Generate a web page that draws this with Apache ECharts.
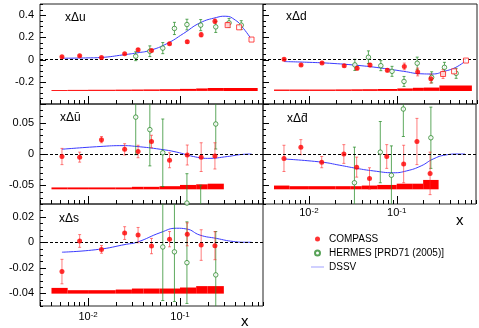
<!DOCTYPE html>
<html>
<head>
<meta charset="utf-8">
<script src="https://cdn.jsdelivr.net/npm/echarts@6/dist/echarts.min.js"></script>
<style>
html, body { margin: 0; padding: 0; background: #fff; }
#main { width: 479px; height: 328px; }
</style>
</head>
<body>
<div id="main"></div>
<script>
var FONT = '"Liberation Sans", Arial, sans-serif';

// x values of the measurements
var compassX = [0.0052, 0.0081, 0.014, 0.025, 0.035, 0.049, 0.077, 0.12, 0.17, 0.24, 0.33];
var hermesX = [0.033, 0.047, 0.065, 0.087, 0.119, 0.168, 0.245, 0.342, 0.464];
var binEdges = [0.004, 0.006, 0.01, 0.02, 0.03, 0.04, 0.06, 0.1, 0.15, 0.2, 0.3, 0.7];
var squareX = [0.33, 0.44, 0.6];

// x Delta u
var compassU = [0.025, 0.034, 0.018, 0.052, 0.088, 0.082, 0.143, 0.16, 0.224, 0.345, 0.315];
var compassUErr = [0.006, 0.006, 0.006, 0.007, 0.01, 0.01, 0.01, 0.012, 0.02, 0.02, 0.02];
var hermesU = [0.03, 0.075, 0.103, 0.28, 0.315, 0.31, 0.294, 0.33, 0.31];
var hermesUErr = [0.04, 0.048, 0.05, 0.055, 0.048, 0.05, 0.05, 0.04, 0.04];
var squareU = [0.31, 0.29, 0.18];
var dssvUX = [0.0052, 0.01, 0.014, 0.024, 0.034, 0.047, 0.072, 0.109, 0.165, 0.25, 0.31, 0.4, 0.49, 0.6];
var dssvU = [0.012, 0.015, 0.019, 0.042, 0.06, 0.082, 0.143, 0.234, 0.33, 0.379, 0.39, 0.355, 0.28, 0.18];
var systU = [0.008, 0.009, 0.01, 0.011, 0.012, 0.013, 0.015, 0.018, 0.022, 0.026, 0.026];
var systBaseU = -0.282;

// x Delta d
var compassD = [0.003, -0.048, -0.03, -0.056, -0.078, -0.05, -0.097, -0.062, -0.112, -0.172, -0.13];
var compassDErr = [0.01, 0.008, 0.008, 0.01, 0.015, 0.015, 0.015, 0.03, 0.035, 0.04, 0.04];
var hermesD = [-0.048, 0.021, -0.055, -0.106, -0.197, -0.033, -0.16, -0.07, -0.124];
var hermesDErr = [0.05, 0.057, 0.045, 0.045, 0.045, 0.055, 0.05, 0.045, 0.045];
var squareD = [-0.13, -0.106, -0.009];
var dssvDX = [0.0052, 0.01, 0.017, 0.035, 0.065, 0.118, 0.185, 0.25, 0.34, 0.46, 0.6];
var dssvD = [-0.018, -0.025, -0.033, -0.052, -0.076, -0.106, -0.128, -0.13, -0.106, -0.07, -0.009];
var systD = [0.012, 0.012, 0.012, 0.013, 0.014, 0.015, 0.017, 0.022, 0.028, 0.03, 0.048];
var systBaseD = -0.282;

// x Delta u-bar
var compassUb = [-0.004, -0.005, 0.023, 0.0075, 0.004, 0.02, -0.01, -0.0016, -0.005, -0.003];
var compassUbErr = [0.013, 0.008, 0.005, 0.009, 0.01, 0.01, 0.012, 0.016, 0.023, 0.021];
var hermesUb = [0.059, 0.039, 0.002, null, -0.0785, -0.1, 0.048, null, null];
var hermesUbErr = [0.06, 0.058, 0.054, 0, 0.047, 0.05, 0.04, 0, 0];
var dssvUbX = [0.0052, 0.0135, 0.024, 0.034, 0.061, 0.092, 0.14, 0.2, 0.33, 0.45, 0.6];
var dssvUb = [0.0076, 0.012, 0.0134, 0.012, 0.0076, 0.003, -0.004, -0.007, -0.004, -0.001, 0];
var systUb = [0.003, 0.003, 0.003, 0.003, 0.004, 0.004, 0.005, 0.007, 0.008, 0.009];
var systBaseUb = -0.0565;

// x Delta d-bar
var compassDb = [-0.007, 0.011, -0.013, 0, -0.021, -0.039, -0.004, -0.016, 0.02, -0.031];
var compassDbErr = [0.021, 0.012, 0.009, 0.015, 0.016, 0.017, 0.019, 0.03, 0.037, 0.034];
var hermesDb = [-0.046, null, 0.003, -0.034, 0.072, null, 0.026, null, null];
var hermesDbErr = [0.057, 0, 0.049, 0.047, 0.044, 0, 0.049, 0, 0];
var dssvDbX = [0.0052, 0.014, 0.0225, 0.035, 0.054, 0.092, 0.13, 0.19, 0.26, 0.36, 0.5, 0.6];
var dssvDb = [-0.008, -0.013, -0.018, -0.023, -0.027, -0.03, -0.027, -0.019, -0.008, -0.0016, 0, 0];
var systDb = [0.006, 0.005, 0.005, 0.005, 0.005, 0.006, 0.007, 0.009, 0.009, 0.015];
var systBaseDb = -0.0565;

// x Delta s
var compassS = [-0.023, 0.001, -0.0056, 0.0072, 0.0056, -0.003, 0.0024, 0.0062, -0.0022, -0.0027];
var compassSErr = [0.0096, 0.005, 0.003, 0.005, 0.006, 0.006, 0.006, 0.009, 0.012, 0.011];
var hermesS = [null, null, -0.0037, -0.0075, -0.016, null, -0.0256, null, null];
var hermesSErr = [0, 0, 0.042, 0.039, 0.032, 0, 0.034, 0, 0];
var dssvSX = [0.0052, 0.013, 0.026, 0.034, 0.062, 0.092, 0.118, 0.165, 0.25, 0.38, 0.53, 0.6];
var dssvS = [-0.0078, -0.0056, -0.0016, 0, 0.0077, 0.011, 0.0104, 0.0056, 0.003, 0.0006, 0, 0];
var systS = [0.0045, 0.0027, 0.0027, 0.0032, 0.004, 0.004, 0.004, 0.0048, 0.0059, 0.0059];
var systBaseS = -0.0403;

var X_MIN = 0.003, X_MAX = 0.8;

var panels = [
    {label: 'xΔu', grid: {left: 40, top: 4, width: 223, height: 100}, labelPos: [65, 12],
        yMin: -0.4, yMax: 0.5, minor: 0.05, major: 0.2, yLabels: true, xLabels: false,
        comp: compassU, compErr: compassUErr, herm: hermesU, hermErr: hermesUErr, sq: squareU,
        dx: dssvUX, dy: dssvU, syst: systU, systBase: systBaseU},
    {label: 'xΔd', grid: {left: 263, top: 4, width: 214, height: 100}, labelPos: [286, 11],
        yMin: -0.4, yMax: 0.5, minor: 0.05, major: 0.2, yLabels: false, xLabels: false,
        comp: compassD, compErr: compassDErr, herm: hermesD, hermErr: hermesDErr, sq: squareD,
        dx: dssvDX, dy: dssvD, syst: systD, systBase: systBaseD},
    {label: 'xΔū', grid: {left: 40, top: 104, width: 223, height: 100}, labelPos: [60, 112],
        yMin: -0.08, yMax: 0.08, minor: 0.01, major: 0.05, yLabels: true, xLabels: false,
        comp: compassUb, compErr: compassUbErr, herm: hermesUb, hermErr: hermesUbErr, sq: null,
        dx: dssvUbX, dy: dssvUb, syst: systUb, systBase: systBaseUb},
    {label: 'xΔd̄', grid: {left: 263, top: 104, width: 214, height: 100}, labelPos: [287, 113],
        yMin: -0.08, yMax: 0.08, minor: 0.01, major: 0.05, yLabels: false, xLabels: true,
        labelMargin: 3, namePos: [456, 213],
        comp: compassDb, compErr: compassDbErr, herm: hermesDb, hermErr: hermesDbErr, sq: null,
        dx: dssvDbX, dy: dssvDb, syst: systDb, systBase: systBaseDb},
    {label: 'xΔs', grid: {left: 40, top: 204, width: 223, height: 102}, labelPos: [59, 213],
        yMin: -0.05, yMax: 0.03, minor: 0.005, major: 0.02, yLabels: true, xLabels: true,
        labelMargin: 5, namePos: [241, 314],
        comp: compassS, compErr: compassSErr, herm: hermesS, hermErr: hermesSErr, sq: null,
        dx: dssvSX, dy: dssvS, syst: systS, systBase: systBaseS}
];

// log-axis tick positions (1..9 times each decade)
var xTickVals = [];
[0.001, 0.01, 0.1].forEach(function (dec) {
    for (var m = 1; m <= 9; m++) {
        var v = +(m * dec).toPrecision(3);
        if (v >= X_MIN && v <= X_MAX) xTickVals.push(v);
    }
});

function isPow10(v) {
    var e = Math.log10(v);
    return Math.abs(e - Math.round(e)) < 1e-6;
}

function bandItem(params, api) {
    var p0 = api.coord([api.value(0), api.value(3)]);
    var p1 = api.coord([api.value(1), api.value(2)]);
    return {type: 'rect', shape: {x: p0[0], y: p0[1], width: p1[0] - p0[0], height: p1[1] - p0[1]},
        style: {fill: '#ff0000'}};
}

function errItem(color) {
    return function (params, api) {
        var x = api.value(0), y = api.value(1), e = api.value(2);
        var a = api.coord([x, y + e]), b = api.coord([x, y - e]);
        var st = {stroke: color, lineWidth: 1};
        return {type: 'group', children: [
            {type: 'line', shape: {x1: a[0], y1: a[1], x2: b[0], y2: b[1]}, style: st},
            {type: 'line', shape: {x1: a[0] - 1.5, y1: a[1], x2: a[0] + 1.5, y2: a[1]}, style: st},
            {type: 'line', shape: {x1: b[0] - 1.5, y1: b[1], x2: b[0] + 1.5, y2: b[1]}, style: st}
        ]};
    };
}

function xTickItem(params, api) {
    var v = api.value(0);
    var x = Math.round(api.coord([v, 0])[0]) + 0.5;
    var bottom = params.coordSys.y + params.coordSys.height;
    var len = isPow10(v) ? 8 : 4;
    return {type: 'line', shape: {x1: x, y1: bottom, x2: x, y2: bottom - len},
        style: {stroke: '#000', lineWidth: 1}};
}

function yTickItem(params, api) {
    var v = api.value(1);
    var y = Math.round(api.coord([0.01, v])[1]) + 0.5;
    var left = params.coordSys.x;
    var len = api.value(2) ? 6 : 3;
    return {type: 'line', shape: {x1: left, y1: y, x2: left + len, y2: y},
        style: {stroke: '#000', lineWidth: 1}};
}

function pairs(xs, ys, errs) {
    var out = [];
    for (var k = 0; k < ys.length; k++) {
        if (ys[k] === null) continue;
        out.push(errs ? [xs[k], ys[k], errs[k]] : [xs[k], ys[k]]);
    }
    return out;
}

var textStyle = {fontSize: 12, fontWeight: 'normal', color: '#000', fontFamily: FONT};
var grids = [], xAxes = [], yAxes = [], series = [], titles = [];

panels.forEach(function (p, i) {
    grids.push(Object.assign({show: true, borderColor: '#222', borderWidth: 1}, p.grid));

    xAxes.push({
        type: 'log', logBase: 10, gridIndex: i, min: X_MIN, max: X_MAX,
        axisLine: {show: false}, axisTick: {show: false}, splitLine: {show: false},
        axisLabel: {
            show: p.xLabels, margin: p.labelMargin || 4, color: '#000', fontSize: 11, fontFamily: FONT,
            formatter: function (v) {
                if (!isPow10(v)) return '';
                return '10{s|' + Math.round(Math.log10(v)) + '}';
            },
            rich: {s: {fontSize: 8, verticalAlign: 'top', color: '#000', fontFamily: FONT}}
        }
    });

    yAxes.push({
        type: 'value', gridIndex: i, min: p.yMin, max: p.yMax, interval: p.minor,
        axisLine: {show: false}, axisTick: {show: false}, splitLine: {show: false},
        axisLabel: {
            show: p.yLabels, margin: 6, color: '#000', fontSize: 11, fontFamily: FONT,
            formatter: function (v) {
                var k = v / p.major;
                if (Math.abs(k - Math.round(k)) > 1e-6) return '';
                if (v <= p.yMin + 1e-9 || v >= p.yMax - 1e-9) return '';
                return String(+v.toFixed(3));
            }
        }
    });

    titles.push({text: p.label, left: p.labelPos[0], top: p.labelPos[1], padding: 0, textStyle: textStyle});
    if (p.namePos) {
        titles.push({text: 'x', left: p.namePos[0], top: p.namePos[1], padding: 0,
            textStyle: Object.assign({}, textStyle, {fontSize: 15})});
    }

    // systematic band
    series.push({
        type: 'custom', xAxisIndex: i, yAxisIndex: i, silent: true, z: 1, clip: true,
        renderItem: bandItem, encode: {x: [0, 1], y: [2, 3]},
        data: p.syst.map(function (h, k) {
            return [binEdges[k], binEdges[k + 1], p.systBase, p.systBase + h];
        })
    });

    // axis ticks
    series.push({
        type: 'custom', xAxisIndex: i, yAxisIndex: i, silent: true, z: 6,
        renderItem: xTickItem, encode: {x: 0, y: 1},
        data: xTickVals.map(function (v) { return [v, 0]; })
    });
    var yt = [];
    var steps = Math.round(p.major / p.minor);
    for (var k = Math.ceil(p.yMin / p.minor - 1e-9); k <= Math.floor(p.yMax / p.minor + 1e-9); k++) {
        yt.push([0.01, +(k * p.minor).toFixed(4), k % steps === 0 ? 1 : 0]);
    }
    series.push({
        type: 'custom', xAxisIndex: i, yAxisIndex: i, silent: true, z: 6,
        renderItem: yTickItem, encode: {x: 0, y: 1}, data: yt
    });

    // DSSV curve with the dashed zero line
    series.push({
        type: 'line', name: 'DSSV', xAxisIndex: i, yAxisIndex: i, z: 3,
        data: pairs(p.dx, p.dy), smooth: true, showSymbol: false, symbol: 'none',
        lineStyle: {color: '#3b3bff', width: 1}, itemStyle: {color: '#3b3bff'},
        markLine: {silent: true, symbol: 'none', label: {show: false}, animation: false,
            lineStyle: {color: '#000', type: [3, 2], width: 1}, data: [{yAxis: 0}]}
    });

    // HERMES
    series.push({
        type: 'custom', xAxisIndex: i, yAxisIndex: i, silent: true, z: 4, clip: true,
        renderItem: errItem('rgba(40,140,40,0.75)'), encode: {x: 0, y: 1},
        data: pairs(hermesX, p.herm, p.hermErr)
    });
    series.push({
        type: 'scatter', name: 'HERMES [PRD71 (2005)]', xAxisIndex: i, yAxisIndex: i, z: 5,
        symbol: 'circle', symbolSize: 4.5,
        itemStyle: {color: '#ffffff', borderColor: '#2e8b2e', borderWidth: 1},
        data: pairs(hermesX, p.herm)
    });

    // COMPASS
    series.push({
        type: 'custom', xAxisIndex: i, yAxisIndex: i, silent: true, z: 4, clip: true,
        renderItem: errItem('rgba(255,40,40,0.6)'), encode: {x: 0, y: 1},
        data: pairs(compassX, p.comp, p.compErr)
    });
    series.push({
        type: 'scatter', name: 'COMPASS', xAxisIndex: i, yAxisIndex: i, z: 5,
        symbol: 'circle', symbolSize: 5, itemStyle: {color: '#ff0000'},
        data: pairs(compassX, p.comp)
    });

    if (p.sq) {
        series.push({
            type: 'scatter', name: 'extra', xAxisIndex: i, yAxisIndex: i, z: 5,
            symbol: 'rect', symbolSize: 5,
            itemStyle: {color: '#ffffff', borderColor: '#ff2020', borderWidth: 1},
            data: pairs(squareX, p.sq)
        });
    }
});

var chart = echarts.init(document.getElementById('main'));
chart.setOption({
    animation: false,
    backgroundColor: '#fff',
    title: titles,
    grid: grids,
    xAxis: xAxes,
    yAxis: yAxes,
    legend: {
        orient: 'vertical', left: 306, top: 229, itemWidth: 13, itemHeight: 5, itemGap: 4,
        textStyle: {fontSize: 10, color: '#000', fontFamily: FONT},
        data: [
            {name: 'COMPASS'},
            {name: 'HERMES [PRD71 (2005)]'},
            {name: 'DSSV', icon: 'path://M0,0h26v2h-26z', itemStyle: {color: '#a0a0ff'}}
        ]
    },
    series: series
});
</script>
</body>
</html>
